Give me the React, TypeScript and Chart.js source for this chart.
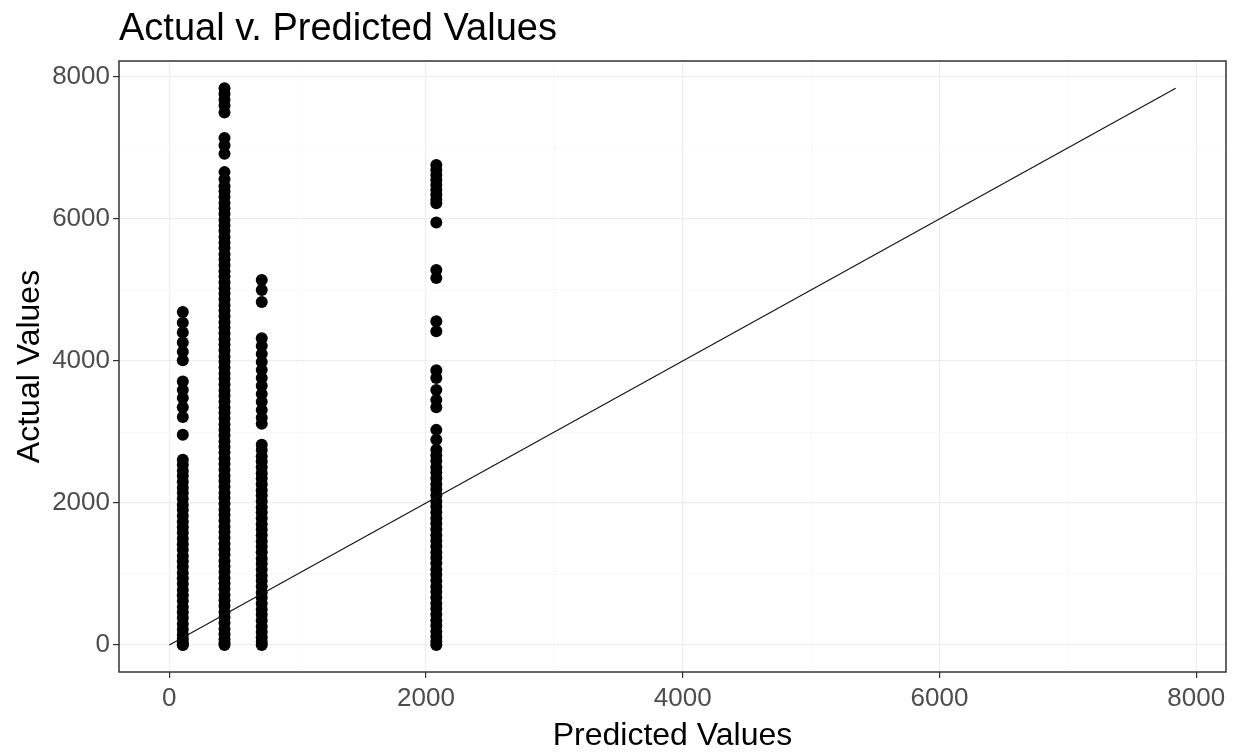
import { useEffect, useRef } from "react";
import { Chart, registerables } from "chart.js";

Chart.register(...registerables);

// Predicted value levels (x) of the four point columns
const predictedLevels = [105, 430, 720, 2080];

// Actual values (y) read from each column
const actualAt105 = [
  4690, 4540, 4400, 4260, 4130, 4010, 3710, 3590, 3480, 3350, 3210, 2960,
  2610, 2540, 2455, 2380, 2300, 2215, 2140, 2060, 1975, 1900, 1820, 1735,
  1660, 1580, 1495, 1420, 1340, 1255, 1180, 1100, 1015, 940, 860, 775, 700,
  620, 535, 460, 380, 295, 220, 145, 85, 35, 5, 0,
];
const actualAt430 = [
  7840, 7760, 7680, 7600, 7500, 7140, 7040, 6920, 6660, 6560, 6460,
  6390, 6310, 6225, 6150, 6070, 5985, 5910, 5830, 5745, 5670, 5590, 5505,
  5430, 5350, 5265, 5190, 5110, 5025, 4950, 4870, 4785, 4710, 4630, 4545,
  4470, 4390, 4305, 4230, 4150, 4065, 3990, 3910, 3825, 3750, 3670, 3585,
  3510, 3430, 3345, 3270, 3190, 3105, 3030, 2950, 2865, 2790, 2710, 2625,
  2550, 2470, 2385, 2310, 2230, 2145, 2070, 1990, 1905, 1830, 1750, 1665,
  1590, 1510, 1425, 1350, 1270, 1185, 1110, 1030, 945, 870, 790, 705, 630,
  550, 465, 390, 310, 225, 150, 80, 30, 0,
];
const actualAt720 = [
  5140, 5000, 4830, 4320, 4210, 4100, 3985, 3875, 3760, 3650, 3535, 3425,
  3310, 3200, 3115,
  2820, 2745, 2660, 2585, 2505, 2420, 2345, 2265, 2180, 2105, 2025, 1940,
  1865, 1785, 1700, 1625, 1545, 1460, 1385, 1305, 1220, 1145, 1065, 980, 905,
  825, 740, 665, 585, 500, 425, 345, 260, 185, 110, 45, 0,
];
const actualAt2080 = [
  6760, 6690, 6620, 6550, 6480, 6410, 6340, 6270, 6220, 5950, 5280, 5170,
  4560, 4420, 3870, 3760, 3590, 3450, 3350, 3030, 2890,
  2750, 2670, 2590, 2505, 2430, 2350, 2265, 2190, 2110, 2025, 1950, 1870,
  1785, 1710, 1630, 1545, 1470, 1390, 1305, 1230, 1150, 1065, 990, 910, 825,
  750, 670, 585, 510, 430, 345, 270, 190, 115, 50, 0,
];

// Identity reference line endpoints (min and max of actual values)
const referenceLine = [0, 7840];

// Axis ticks (major labelled, minor grid only) and ranges
const xTickValues = [0, 1000, 2000, 3000, 4000, 5000, 6000, 7000, 8000];
const yTickValues = [0, 1000, 2000, 3000, 4000, 5000, 6000, 7000, 8000];
const xMajorTicks = [0, 2000, 4000, 6000, 8000];
const yMajorTicks = [0, 2000, 4000, 6000, 8000];
const xRange = [-392, 8232];
const yRange = [-380, 8225];

const FONT = "'Liberation Sans', Arial, Helvetica, sans-serif";

const panelBorder = {
  id: "panelBorder",
  afterDraw(chart: any) {
    const { ctx, chartArea } = chart;
    ctx.save();
    ctx.strokeStyle = "#333333";
    ctx.lineWidth = 1.5;
    ctx.strokeRect(
      chartArea.left,
      chartArea.top,
      chartArea.right - chartArea.left,
      chartArea.bottom - chartArea.top
    );
    ctx.restore();
  },
};

export default function App() {
  const canvasRef = useRef<HTMLCanvasElement | null>(null);

  useEffect(() => {
    document.body.style.margin = "0";
    const canvas = canvasRef.current;
    if (!canvas) return;

    const columns = [actualAt105, actualAt430, actualAt720, actualAt2080];
    const pointSets = columns.map((vals, i) => ({
      type: "scatter" as const,
      label: "Predicted " + predictedLevels[i],
      data: vals.map((v) => ({ x: predictedLevels[i], y: v })),
      backgroundColor: "#000000",
      borderWidth: 0,
      pointRadius: 6,
      pointHoverRadius: 6,
    }));

    const lineSet = {
      type: "scatter" as const,
      label: "Identity",
      data: referenceLine.map((v) => ({ x: v, y: v })),
      showLine: true,
      borderColor: "#111111",
      borderWidth: 1.1,
      pointRadius: 0,
      pointHoverRadius: 0,
    };

    const isMajor = (list: number[], v: number) => list.includes(v);

    const axis = (
      tickValues: number[],
      major: number[],
      range: number[],
      title: string,
      horizontal: boolean
    ) => ({
      type: "linear",
      min: range[0],
      max: range[1],
      afterBuildTicks(scale: any) {
        scale.ticks = tickValues.map((v) => ({ value: v }));
      },
      afterFit(scale: any) {
        if (horizontal) scale.height = 81;
        else scale.width = 119;
      },
      border: { display: false },
      grid: {
        color: (c: any) => (isMajor(major, c.tick?.value) ? "#ededed" : "#f6f6f6"),
        lineWidth: (c: any) => (isMajor(major, c.tick?.value) ? 1.2 : 0.7),
        tickColor: (c: any) =>
          isMajor(major, c.tick?.value) ? "#333333" : "rgba(0,0,0,0)",
        tickWidth: 1.2,
        tickLength: 6,
        drawTicks: true,
      },
      ticks: {
        autoSkip: false,
        maxRotation: 0,
        padding: horizontal ? 5 : 3,
        color: "#4d4d4d",
        font: { family: FONT, size: 26, lineHeight: 1.2 },
        callback: (v: any) => (isMajor(major, Number(v)) ? String(Number(v)) : ""),
      },
      title: {
        display: true,
        text: title,
        color: "#000000",
        font: { family: FONT, size: 32, lineHeight: 1 },
        padding: horizontal ? { top: 0, bottom: 1 } : { top: 14, bottom: 0 },
      },
    });

    const chart = new Chart(canvas, {
      type: "scatter",
      data: { datasets: [lineSet, ...pointSets] as any },
      plugins: [panelBorder],
      options: {
        animation: false,
        responsive: false,
        events: [],
        layout: { padding: { top: 0, right: 15, bottom: 0, left: 0 } },
        plugins: {
          legend: { display: false },
          tooltip: { enabled: false },
          title: {
            display: true,
            text: "Actual v. Predicted Values",
            align: "start",
            fullSize: false,
            color: "#000000",
            font: { family: FONT, size: 38, weight: "normal", lineHeight: 1.2 },
            padding: { top: 7, bottom: 8.4 },
          },
        },
        scales: {
          x: axis(xTickValues, xMajorTicks, xRange, "Predicted Values", true),
          y: axis(yTickValues, yMajorTicks, yRange, "Actual Values", false),
        },
      } as any,
    });

    return () => chart.destroy();
  }, []);

  return (
    <div style={{ width: 1241, height: 753, background: "#ffffff" }}>
      <canvas ref={canvasRef} width={1241} height={753} style={{ display: "block" }} />
    </div>
  );
}
